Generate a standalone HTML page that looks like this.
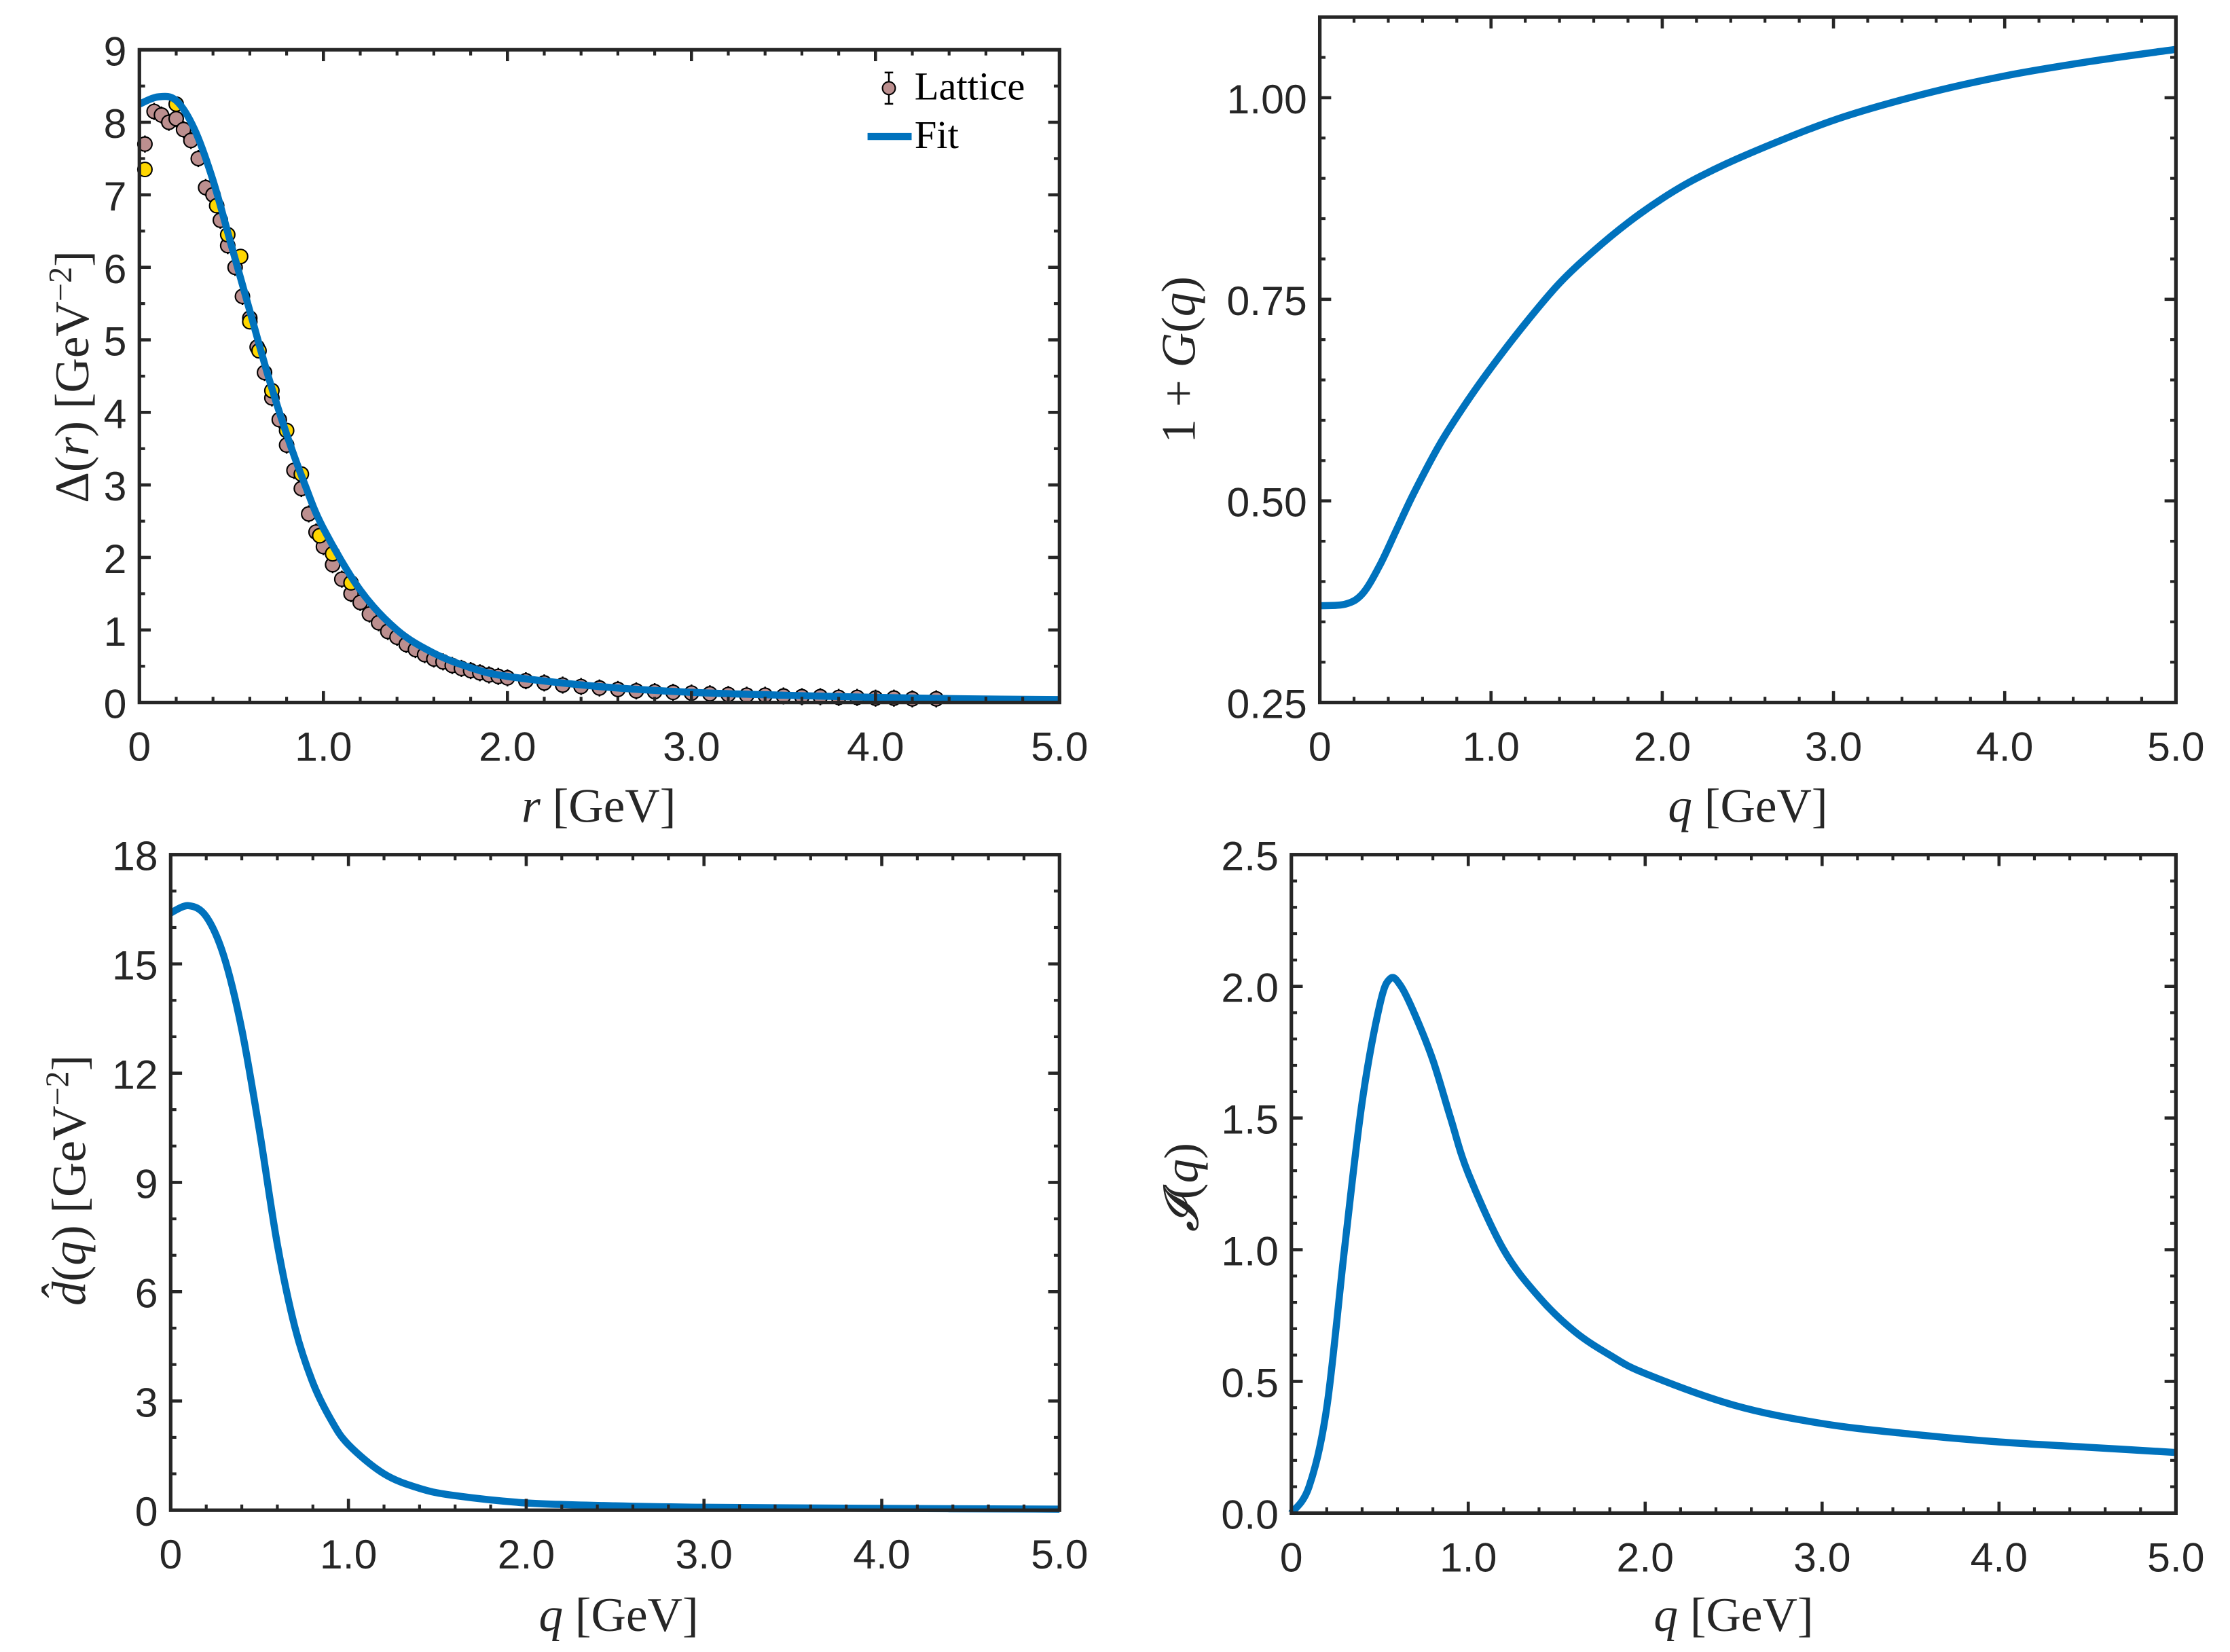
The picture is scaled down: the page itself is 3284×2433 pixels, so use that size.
<!DOCTYPE html>
<html><head><meta charset="utf-8">
<style>
html,body{margin:0;padding:0;background:#fff;}
svg{display:block;}
.tk{font-family:"Liberation Sans",sans-serif;font-size:29px;fill:#262626;}
.lb{font-family:"Liberation Serif",serif;font-size:34px;fill:#262626;}
</style></head>
<body>
<svg id="fig" width="3284" height="2433" viewBox="0 0 1568 1161.7" xmlns="http://www.w3.org/2000/svg">
<rect width="1568" height="1162" fill="#fff"/>
<g id="layer"></g>
<text class="lb" transform="translate(62,265) rotate(-90)" text-anchor="middle">Δ(<tspan font-style="italic">r</tspan>)  [GeV<tspan dy="-12" font-size="23">−2</tspan><tspan dy="12">]</tspan></text>
<text class="lb" x="421" y="578" text-anchor="middle"><tspan font-style="italic">r</tspan> [GeV]</text>
<text class="lb" transform="translate(840,253) rotate(-90)" text-anchor="middle">1 + <tspan font-style="italic">G</tspan>(<tspan font-style="italic">q</tspan>)</text>
<text class="lb" x="1229" y="578" text-anchor="middle"><tspan font-style="italic">q</tspan> [GeV]</text>
<text class="lb" transform="translate(60,830) rotate(-90)" text-anchor="middle"><tspan font-style="italic">d̂</tspan>(<tspan font-style="italic">q</tspan>)  [GeV<tspan dy="-12" font-size="23">−2</tspan><tspan dy="12">]</tspan></text>
<text class="lb" x="435" y="1147" text-anchor="middle"><tspan font-style="italic">q</tspan> [GeV]</text>
<text class="lb" transform="translate(842,835) rotate(-90)" text-anchor="middle"><tspan font-style="italic">𝓘</tspan>(<tspan font-style="italic">q</tspan>)</text>
<text class="lb" x="1219" y="1147" text-anchor="middle"><tspan font-style="italic">q</tspan> [GeV]</text>
<g>
<line x1="625" y1="51" x2="625" y2="73" stroke="#000" stroke-width="1.2"/>
<line x1="622" y1="51" x2="628" y2="51" stroke="#000" stroke-width="1.2"/>
<line x1="622" y1="73" x2="628" y2="73" stroke="#000" stroke-width="1.2"/>
<circle cx="625" cy="62" r="4.5" fill="#bc8f8f" stroke="#000" stroke-width="1"/>
<text x="643" y="70" font-family="Liberation Serif,serif" font-size="28" fill="#000">Lattice</text>
<line x1="610" y1="96" x2="641" y2="96" stroke="#0072BD" stroke-width="5"/>
<text x="643" y="104" font-family="Liberation Serif,serif" font-size="28" fill="#000">Fit</text>
</g>
</svg>
<script>
const p1R = [0,0.1,0.2,0.3,0.4,0.5,0.6,0.7,0.8,0.9,1.0,1.2,1.4,1.6,1.8,2.0,2.5,3.0,3.5,4.0,4.5,5.0];
const p1Fit = [8.25,8.35,8.3,7.9,7.2,6.3,5.4,4.5,3.7,3.0,2.4,1.55,1.0,0.68,0.48,0.36,0.22,0.14,0.1,0.07,0.05,0.04];
const latR = [0.03,0.08,0.12,0.16,0.2,0.24,0.28,0.32,0.36,0.4,0.44,0.48,0.52,0.56,0.6,0.64,0.68,0.72,0.76,0.8,0.84,0.88,0.92,0.96,1.0,1.05,1.1,1.15,1.2,1.25,1.3,1.35,1.4,1.45,1.5,1.55,1.6,1.65,1.7,1.75,1.8,1.85,1.9,1.95,2.0,2.1,2.2,2.3,2.4,2.5,2.6,2.7,2.8,2.9,3.0,3.1,3.2,3.3,3.4,3.5,3.6,3.7,3.8,3.9,4.0,4.1,4.2,4.33];
const latV = [7.7,8.15,8.1,8.0,8.05,7.9,7.75,7.5,7.1,7.0,6.65,6.3,6.0,5.6,5.3,4.9,4.55,4.2,3.9,3.55,3.2,2.95,2.6,2.35,2.15,1.9,1.7,1.5,1.38,1.22,1.1,0.98,0.9,0.8,0.73,0.66,0.6,0.56,0.51,0.47,0.44,0.41,0.38,0.36,0.34,0.3,0.27,0.24,0.22,0.2,0.18,0.16,0.15,0.14,0.13,0.12,0.11,0.1,0.1,0.09,0.08,0.08,0.07,0.07,0.06,0.06,0.05,0.05];
const latYR = [0.03,0.2,0.42,0.48,0.55,0.6,0.65,0.72,0.8,0.88,0.98,1.05,1.15];
const latYV = [7.35,8.25,6.85,6.45,6.15,5.25,4.85,4.3,3.75,3.15,2.3,2.05,1.65];
const p2Q = [0,0.15,0.25,0.35,0.45,0.55,0.7,0.85,1.0,1.2,1.4,1.6,1.8,2.0,2.2,2.5,3.0,3.5,4.0,4.5,5.0];
const p2V = [0.37,0.372,0.385,0.42,0.465,0.51,0.57,0.62,0.665,0.72,0.77,0.81,0.845,0.875,0.9,0.93,0.972,1.003,1.027,1.045,1.06];
const p3Q = [0,0.1,0.2,0.3,0.4,0.5,0.6,0.7,0.8,0.9,1.0,1.2,1.4,1.6,2.0,2.5,3.0,4.0,5.0];
const p3V = [16.4,16.6,16.3,15.2,13.2,10.4,7.3,5.0,3.5,2.5,1.8,1.0,0.6,0.4,0.2,0.12,0.08,0.05,0.03];
const p4Q = [0,0.1,0.2,0.3,0.4,0.5,0.56,0.62,0.7,0.8,0.9,1.0,1.2,1.4,1.6,1.8,2.0,2.5,3.0,3.5,4.0,4.5,5.0];
const p4V = [0,0.1,0.4,1.0,1.56,1.93,2.03,2.0,1.89,1.72,1.5,1.29,1.0,0.82,0.69,0.6,0.53,0.41,0.34,0.3,0.27,0.25,0.23];
const xTickVals = [0,1,2,3,4,5];
const xTickLabels = ["0","1.0","2.0","3.0","4.0","5.0"];
const p1YTicks = [0,1,2,3,4,5,6,7,8,9];
const p1YLabels = ["0","1","2","3","4","5","6","7","8","9"];
const p2YTicks = [0.25,0.5,0.75,1.0];
const p2YLabels = ["0.25","0.50","0.75","1.00"];
const p3YTicks = [0,3,6,9,12,15,18];
const p3YLabels = ["0","3","6","9","12","15","18"];
const p4YTicks = [0,0.5,1.0,1.5,2.0,2.5];
const p4YLabels = ["0.0","0.5","1.0","1.5","2.0","2.5"];

const NS="http://www.w3.org/2000/svg";
const layer=document.getElementById('layer');
function mk(tag,attrs,parent){const e=document.createElementNS(NS,tag);for(const k in attrs)e.setAttribute(k,attrs[k]);(parent||layer).appendChild(e);return e;}

function panel(id,box,xmin,xmax,ymin,ymax,yT,yL,xMinor,yMinor){
  const g=mk('g',{});
  
  
  const sx=v=>box.l+(v-xmin)/(xmax-xmin)*(box.r-box.l);
  const sy=v=>box.b-(v-ymin)/(ymax-ymin)*(box.b-box.t);
  return {g,sx,sy,box,draw(){
    const c='#262626';
    for(let v=xmin;v<=xmax+1e-9;v+=xMinor){const x=sx(v);
      mk('line',{x1:x,y1:box.b,x2:x,y2:box.b-4,stroke:c,'stroke-width':2},g);
      mk('line',{x1:x,y1:box.t,x2:x,y2:box.t+4,stroke:c,'stroke-width':2},g);}
    for(let v=ymin;v<=ymax+1e-9;v+=yMinor){const y=sy(v);
      mk('line',{x1:box.l,y1:y,x2:box.l+4,y2:y,stroke:c,'stroke-width':2},g);
      mk('line',{x1:box.r,y1:y,x2:box.r-4,y2:y,stroke:c,'stroke-width':2},g);}
    xTickVals.forEach((v,i)=>{const x=sx(v);
      mk('line',{x1:x,y1:box.b,x2:x,y2:box.b-8,stroke:c,'stroke-width':2.2},g);
      mk('line',{x1:x,y1:box.t,x2:x,y2:box.t+8,stroke:c,'stroke-width':2.2},g);
      const t=mk('text',{x:x,y:box.b+41,'text-anchor':'middle',class:'tk'},g);
      
      
      t.textContent=xTickLabels[i];});
    yT.forEach((v,i)=>{const y=sy(v);
      mk('line',{x1:box.l,y1:y,x2:box.l+8,y2:y,stroke:c,'stroke-width':2.2},g);
      mk('line',{x1:box.r,y1:y,x2:box.r-8,y2:y,stroke:c,'stroke-width':2.2},g);
      const t=mk('text',{x:box.l-9,y:y+11,'text-anchor':'end',class:'tk'},g);
      
      
      t.textContent=yL[i];});
    const fr=mk('rect',{x:box.l,y:box.t,width:box.r-box.l,height:box.b-box.t,fill:'none',stroke:c,'stroke-width':2.5},g);
    
    
  }};
}
function smooth(pts){
  let d='M'+pts[0][0]+','+pts[0][1];
  for(let i=0;i<pts.length-1;i++){
    const p0=pts[Math.max(0,i-1)],p1=pts[i],p2=pts[i+1],p3=pts[Math.min(pts.length-1,i+2)];
    const c1x=p1[0]+(p2[0]-p0[0])/6,c1y=p1[1]+(p2[1]-p0[1])/6;
    const c2x=p2[0]-(p3[0]-p1[0])/6,c2y=p2[1]-(p3[1]-p1[1])/6;
    d+=' C'+c1x+','+c1y+' '+c2x+','+c2y+' '+p2[0]+','+p2[1];
  }
  return d;
}
function curve(P,xs,ys,name){
  const p=mk('path',{d:smooth(xs.map((x,i)=>[P.sx(x),P.sy(ys[i])])),fill:'none',stroke:'#0072BD','stroke-width':5,'stroke-linejoin':'round'},P.g);
  
  
}

const P1=panel('panel-delta-r',{l:98,r:745,t:35,b:494},0,5,0,9,p1YTicks,p1YLabels,0.2,0.5);
latR.forEach((r,i)=>{const x=P1.sx(r),y=P1.sy(latV[i]);
  mk('line',{x1:x,y1:y-6,x2:x,y2:y+6,stroke:'#000','stroke-width':1.2},P1.g);
  const c=mk('circle',{cx:x,cy:y,r:5,fill:'#bc8f8f',stroke:'#000','stroke-width':1},P1.g);
  
  });
latYR.forEach((r,i)=>{const c=mk('circle',{cx:P1.sx(r),cy:P1.sy(latYV[i]),r:5,fill:'#FFD700',stroke:'#000','stroke-width':1},P1.g);
  
  });
curve(P1,p1R,p1Fit,'fit-line');
P1.draw();

const P2=panel('panel-one-plus-g',{l:928,r:1530,t:12,b:494},0,5,0.25,1.1,p2YTicks,p2YLabels,0.2,0.05);
curve(P2,p2Q,p2V,'g-curve');
P2.draw();

const P3=panel('panel-d-hat',{l:120,r:745,t:601,b:1062},0,5,0,18,p3YTicks,p3YLabels,0.2,1);
curve(P3,p3Q,p3V,'d-curve');
P3.draw();

const P4=panel('panel-i-q',{l:908,r:1530,t:601,b:1064},0,5,0,2.5,p4YTicks,p4YLabels,0.2,0.1);
curve(P4,p4Q,p4V,'i-curve');
P4.draw();
</script>
</body></html>
